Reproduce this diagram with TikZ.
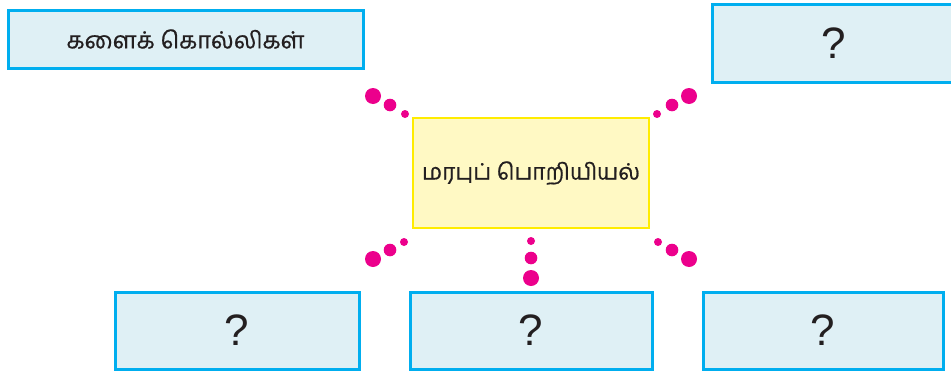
\documentclass[tikz,border=0pt]{standalone}
\usepackage{fontspec}
\setmainfont{Liberation Sans}
\newfontfamily\tamilfont[Script=Tamil,FakeBold=0.6]{Hind Madurai}
\definecolor{boxline}{HTML}{00AEEF}
\definecolor{boxfill}{HTML}{DFF0F5}
\definecolor{midfill}{HTML}{FFF9C4}
\definecolor{midline}{HTML}{FFEC00}
\definecolor{dotcol}{HTML}{EC008C}
\definecolor{ink}{HTML}{231F20}
\tikzset{
  qbox/.style={draw=boxline, fill=boxfill, line width=3pt, rectangle, inner sep=0pt, outer sep=0pt, text=ink},
  midbox/.style={draw=midline, fill=midfill, line width=1.5pt, rectangle, inner sep=0pt, outer sep=0pt, text=ink},
  qmark/.style={font=\fontsize{44}{44}\selectfont},
  bigdot/.style={fill=dotcol}
}
\begin{document}
\begin{tikzpicture}[x=1pt,y=-1pt]
\useasboundingbox (0,0) rectangle (951,375);
\begin{scope}
\clip (0,0) rectangle (951,375);
\node[qbox, minimum width=355pt, minimum height=58pt] (A) at (185.5,39) {\resizebox{238pt}{!}{\tamilfont களைக் கொல்லிகள்}};
\node[qbox, minimum width=243pt, minimum height=78pt, qmark] (B) at (833.5,43) {?};
\node[midbox, minimum width=236pt, minimum height=110pt] (M) at (531,173) {\resizebox{218pt}{!}{\tamilfont மரபுப் பொறியியல்}};
\node[qbox, minimum width=244pt, minimum height=77pt, qmark] (C) at (237,330.5) {?};
\node[qbox, minimum width=242pt, minimum height=77pt, qmark] (D) at (531,330.5) {?};
\node[qbox, minimum width=240pt, minimum height=77pt, qmark] (E) at (823,330.5) {?};
% dots top-left
\fill[bigdot] (373,96) circle (8);
\fill[bigdot] (390,105) circle (6.3);
\fill[bigdot] (405,114) circle (4);
% dots top-right
\fill[bigdot] (689,96) circle (8);
\fill[bigdot] (672,105) circle (6.3);
\fill[bigdot] (657,114) circle (4);
% dots bottom-left
\fill[bigdot] (373,259) circle (8);
\fill[bigdot] (390,250) circle (6.3);
\fill[bigdot] (404,242) circle (4);
% dots bottom-centre
\fill[bigdot] (531,241) circle (4);
\fill[bigdot] (531,258) circle (6.3);
\fill[bigdot] (531,278) circle (8);
% dots bottom-right
\fill[bigdot] (658,242) circle (4);
\fill[bigdot] (672,250) circle (6.3);
\fill[bigdot] (689,259) circle (8);
\end{scope}
\end{tikzpicture}
\end{document}
